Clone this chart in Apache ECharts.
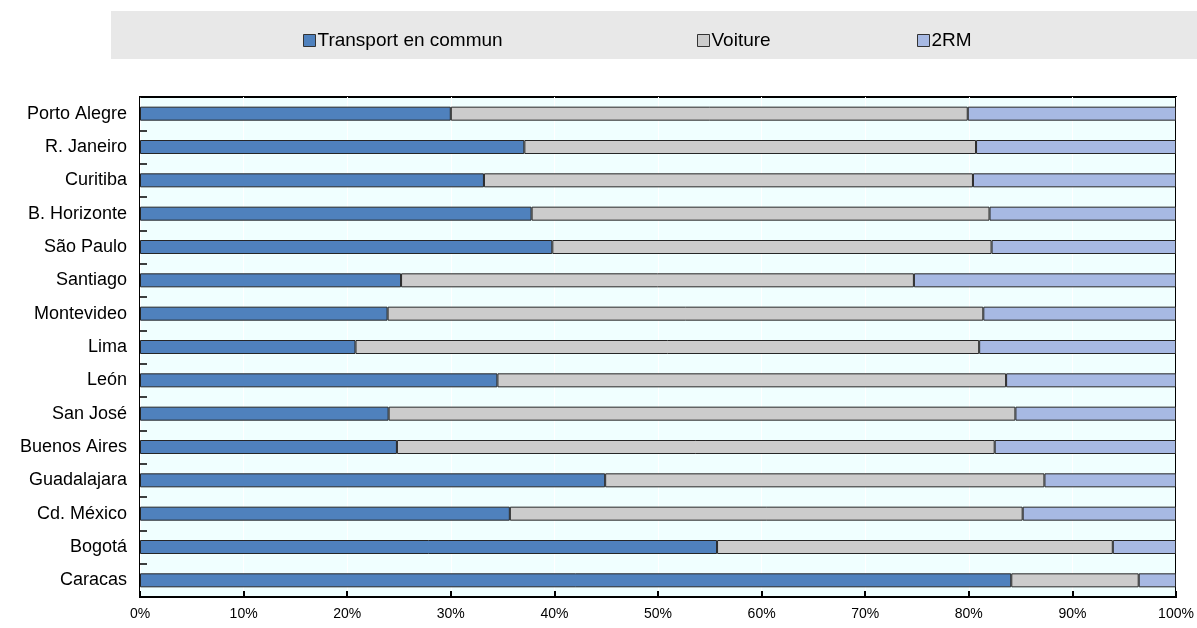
<!DOCTYPE html>
<html>
<head>
<meta charset="utf-8">
<script src="https://cdn.jsdelivr.net/npm/echarts@6/dist/echarts.min.js"></script>
<style>
  html, body { margin: 0; padding: 0; background: #ffffff; }
  #chart { width: 1197px; height: 628px; }
</style>
</head>
<body>
<div id="chart"></div>
<script>
// Modal split by city (share of trips, %)
const cities = [
  'Porto Alegre', 'R. Janeiro', 'Curitiba', 'B. Horizonte', 'São Paulo',
  'Santiago', 'Montevideo', 'Lima', 'León', 'San José',
  'Buenos Aires', 'Guadalajara', 'Cd. México', 'Bogotá', 'Caracas'
];
const transportEnCommun = [30.0, 37.1, 33.2, 37.8, 39.8, 25.2, 23.9, 20.8, 34.5, 24.0, 24.8, 44.9, 35.7, 55.7, 84.1];
const voiture           = [49.9, 43.6, 47.2, 44.2, 42.4, 49.5, 57.5, 60.2, 49.1, 60.5, 57.7, 42.4, 49.5, 38.2, 12.3];
const deuxRoues         = [20.1, 19.3, 19.6, 18.0, 17.8, 25.3, 18.6, 19.0, 16.4, 15.5, 17.5, 12.7, 14.8,  6.1,  3.6];
const seriesNames = ['Transport en commun', 'Voiture', '2RM'];
const seriesColors = ['#4f81bd', '#cccccc', '#a7b9e3'];
const seriesValues = [transportEnCommun, voiture, deuxRoues];
const legendLeft = [298, 692, 912];

const FONT = '"Liberation Sans", Arial, sans-serif';
const chart = echarts.init(document.getElementById('chart'), null, { renderer: 'canvas' });

const option = {
  animation: false,
  backgroundColor: '#ffffff',
  textStyle: { fontFamily: FONT },
  graphic: [{
    type: 'rect',
    left: 111, top: 11, z: -10,
    shape: { width: 1086, height: 48 },
    style: { fill: '#e8e8e8' }
  }],
  legend: seriesNames.map((name, i) => ({
    data: [name],
    left: legendLeft[i],
    top: 26,
    icon: 'rect',
    itemWidth: 12,
    itemHeight: 12,
    itemStyle: { borderColor: '#333333', borderWidth: 1 },
    textStyle: { fontFamily: FONT, fontSize: 19, color: '#000000', padding: [0, 0, 0, -3] },
    selectedMode: false
  })),
  grid: {
    left: 140, top: 97, right: 21, bottom: 31,
    show: true,
    backgroundColor: '#f0ffff',
    borderColor: '#000000',
    borderWidth: 2,
    containLabel: false
  },
  xAxis: {
    type: 'value',
    min: 0, max: 100, interval: 10,
    axisLine: { show: false },
    axisTick: { show: true, inside: true, length: 6, lineStyle: { color: '#000000', width: 2 } },
    splitLine: { show: true, lineStyle: { color: '#ffffff', width: 1 } },
    axisLabel: {
      formatter: '{value}%',
      fontFamily: FONT, fontSize: 14, color: '#000000', margin: 10
    }
  },
  yAxis: {
    type: 'category',
    data: cities,
    inverse: true,
    axisLine: { show: false },
    axisTick: { show: true, inside: true, length: 7, lineStyle: { color: '#000000', width: 1.5 } },
    axisLabel: { fontFamily: FONT, fontSize: 18, color: '#000000', margin: 13 }
  },
  series: seriesNames.map((name, i) => ({
    name,
    type: 'bar',
    stack: 'share',
    barWidth: 14,
    data: seriesValues[i],
    itemStyle: { color: seriesColors[i], borderColor: '#262626', borderWidth: 1 }
  }))
};

chart.setOption(option);
</script>
</body>
</html>
